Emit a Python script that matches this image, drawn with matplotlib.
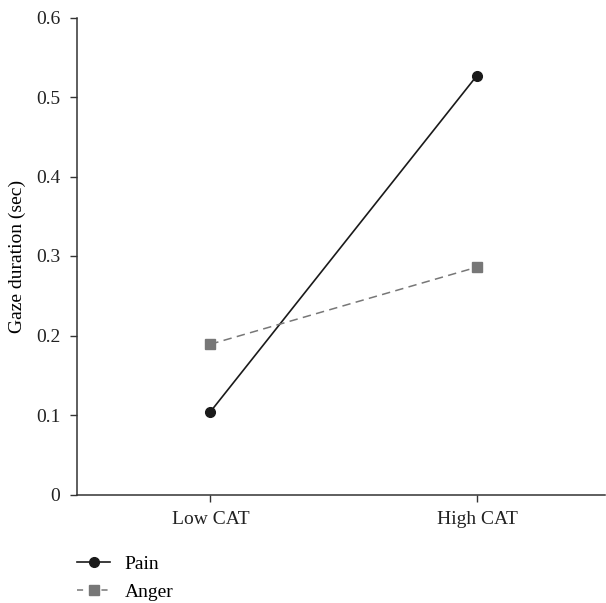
import matplotlib
matplotlib.use("Agg")
import matplotlib.pyplot as plt
from matplotlib.lines import Line2D

categories = ["Low CAT", "High CAT"]
pain = [0.104, 0.527]
anger = [0.189, 0.286]
yticks = [0, 0.1, 0.2, 0.3, 0.4, 0.5, 0.6]
ytick_labels = ["0", "0.1", "0.2", "0.3", "0.4", "0.5", "0.6"]

plt.rcParams["font.family"] = ["Liberation Serif", "DejaVu Serif"]
plt.rcParams["font.size"] = 14

fig = plt.figure(figsize=(6.06, 6.03), dpi=100)
ax = fig.add_axes([77/606, 1 - 494.5/603, (605-77)/606, (494.5-17.5)/603])

x = list(range(len(categories)))
ax.plot(x, pain, color="#1a1a1a", lw=1.2, marker="o", ms=7, label="Pain")
ax.plot(x, anger, color="#777777", lw=1.1, ls=(0, (5.5, 3.5)), marker="s", ms=6.5,
        label="Anger")

ax.set_xlim(-0.5, 1.48)
ax.set_ylim(0, 0.6)
ax.set_xticks(x)
ax.set_xticklabels(categories)
ax.set_yticks(yticks)
ax.set_yticklabels(ytick_labels)
ax.set_ylabel("Gaze duration (sec)", labelpad=7)

for s in ["top", "right"]:
    ax.spines[s].set_visible(False)
for s in ["left", "bottom"]:
    ax.spines[s].set_color("#333333")
    ax.spines[s].set_linewidth(1.1)
ax.tick_params(direction="out", length=5, width=1, colors="#333333", labelcolor="#222222", pad=7)

# legend sits below the axes, left-aligned with the y spine
handles = [
    Line2D([], [], color="#1a1a1a", lw=1.2, marker="o", ms=7),
    Line2D([], [], color="#777777", lw=1.1, ls=(0, (4, 4)), marker="s", ms=6.5),
]
fig.legend(handles, ["Pain", "Anger"], loc="upper left",
           bbox_to_anchor=(77/606, 1 - 555/603), frameon=False,
           borderaxespad=0, borderpad=0,
           handlelength=1.7, handletextpad=0.75, labelspacing=0.55,
           fontsize=14)

fig.savefig("out.png", dpi=100)
